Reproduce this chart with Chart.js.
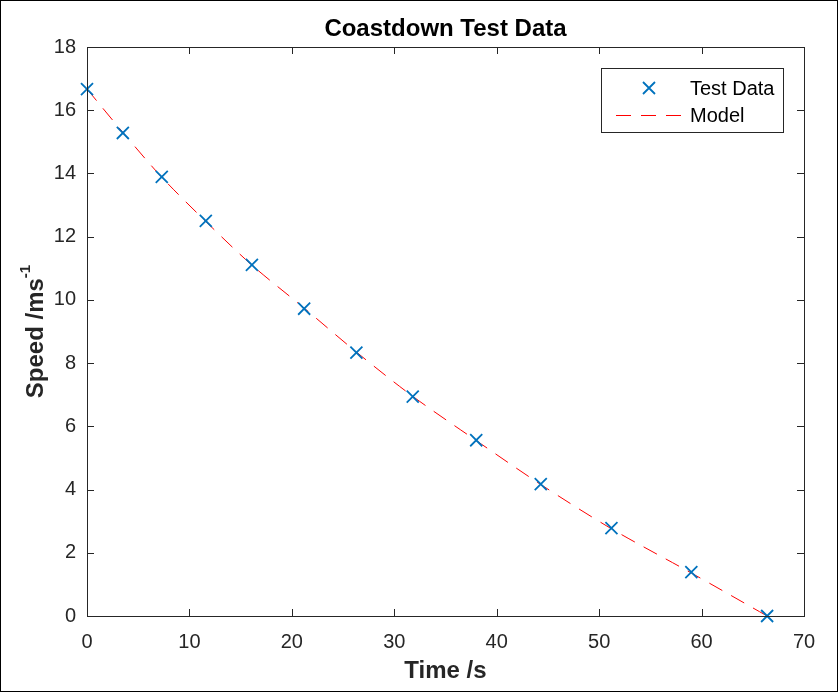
<!DOCTYPE html>
<html>
<head>
<meta charset="utf-8">
<script src="https://cdn.jsdelivr.net/npm/chart.js@4"></script>
<style>
  body { margin: 0; background: #fff; }
  #wrap { width: 839px; height: 692px; }
</style>
</head>
<body>
<div id="wrap"><canvas id="coastdownChart" width="839" height="692"></canvas></div>
<script>
const testTimes = [0, 3.5, 7.3, 11.6, 16.1, 21.2, 26.3, 31.8, 38.0, 44.3, 51.2, 59.0, 66.4];
const testSpeeds = [16.67, 15.28, 13.89, 12.50, 11.11, 9.72, 8.33, 6.94, 5.56, 4.17, 2.78, 1.39, 0.0];

// Modelcurve (gestippelde rode lijn)
const modelTimes = [0, 3.5, 7.3, 11.6, 16.1, 21.2, 26.3, 31.8, 38.0, 44.3, 51.2, 59.0, 66.4];
const modelSpeeds = [16.67, 15.30, 13.88, 12.48, 11.10, 9.74, 8.35, 6.95, 5.55, 4.16, 2.76, 1.36, 0.0];

const xTicks = [0, 10, 20, 30, 40, 50, 60, 70];
const yTicks = [0, 2, 4, 6, 8, 10, 12, 14, 16, 18];

const FONT = "'Liberation Sans', Arial, Helvetica, sans-serif";
const AXIS_COLOR = '#262626';

const toPoints = (xs, ys) => xs.map((x, i) => ({ x: x, y: ys[i] }));

// Plugin: kader, ticks naar binnen, titels, legenda en rand van de figuur
const matlabFrame = {
    id: 'matlabFrame',
    afterDraw(chart) {
        const ctx = chart.ctx;
        const area = chart.chartArea;
        const xs = chart.scales.x;
        const ys = chart.scales.y;
        const tick = 7;

        ctx.save();
        ctx.strokeStyle = AXIS_COLOR;
        ctx.lineWidth = 1;
        ctx.beginPath();
        xTicks.forEach(v => {
            const px = Math.round(xs.getPixelForValue(v)) + 0.5;
            ctx.moveTo(px, area.bottom); ctx.lineTo(px, area.bottom - tick);
            ctx.moveTo(px, area.top); ctx.lineTo(px, area.top + tick);
        });
        yTicks.forEach(v => {
            const py = Math.round(ys.getPixelForValue(v)) + 0.5;
            ctx.moveTo(area.left, py); ctx.lineTo(area.left + tick, py);
            ctx.moveTo(area.right, py); ctx.lineTo(area.right - tick, py);
        });
        ctx.stroke();
        ctx.strokeRect(Math.round(area.left) + 0.5, Math.round(area.top) + 0.5,
            Math.round(area.right - area.left), Math.round(area.bottom - area.top));

        // titel
        ctx.fillStyle = '#000';
        ctx.font = 'bold 24px ' + FONT;
        ctx.textAlign = 'center';
        ctx.textBaseline = 'middle';
        ctx.fillText('Coastdown Test Data', (area.left + area.right) / 2, 29);

        // x-as titel
        ctx.fillStyle = AXIS_COLOR;
        ctx.fillText('Time /s', (area.left + area.right) / 2, 671);

        // y-as titel met superscript
        ctx.translate(36, (area.top + area.bottom) / 2);
        ctx.rotate(-Math.PI / 2);
        const main = 'Speed /ms';
        const sup = '-1';
        ctx.font = 'bold 24px ' + FONT;
        const wMain = ctx.measureText(main).width;
        ctx.font = 'bold 15px ' + FONT;
        const wSup = ctx.measureText(sup).width;
        const start = -(wMain + wSup) / 2;
        ctx.textAlign = 'left';
        ctx.font = 'bold 24px ' + FONT;
        ctx.fillText(main, start, 0);
        ctx.font = 'bold 15px ' + FONT;
        ctx.fillText(sup, start + wMain, -10);
        ctx.restore();

        // legenda
        ctx.save();
        const lx = 601.5, ly = 68.5, lw = 182, lh = 64;
        ctx.fillStyle = '#fff';
        ctx.fillRect(lx, ly, lw, lh);
        ctx.strokeStyle = AXIS_COLOR;
        ctx.lineWidth = 1;
        ctx.strokeRect(lx, ly, lw, lh);

        const ds = chart.data.datasets;
        ctx.font = '20px ' + FONT;
        ctx.fillStyle = '#000';
        ctx.textAlign = 'left';
        ctx.textBaseline = 'middle';

        // rij 1: marker
        const r1 = 88, r2 = 115;
        ctx.strokeStyle = ds[0].borderColor;
        ctx.lineWidth = ds[0].pointBorderWidth;
        const m = 6;
        ctx.beginPath();
        ctx.moveTo(649 - m, r1 - m); ctx.lineTo(649 + m, r1 + m);
        ctx.moveTo(649 + m, r1 - m); ctx.lineTo(649 - m, r1 + m);
        ctx.stroke();
        ctx.fillText(ds[0].label, 690, r1 + 1);

        // rij 2: gestippelde lijn
        ctx.strokeStyle = ds[1].borderColor;
        ctx.lineWidth = ds[1].borderWidth;
        ctx.setLineDash(ds[1].borderDash);
        ctx.beginPath();
        ctx.moveTo(616, r2 + 0.5); ctx.lineTo(684, r2 + 0.5);
        ctx.stroke();
        ctx.setLineDash([]);
        ctx.fillText(ds[1].label, 690, r2 + 1);

        // rand van de figuur
        ctx.strokeStyle = '#000';
        ctx.lineWidth = 1;
        ctx.strokeRect(0.5, 0.5, 837, 691);
        ctx.restore();
    }
};

new Chart(document.getElementById('coastdownChart').getContext('2d'), {
    type: 'scatter',
    data: {
        datasets: [{
            label: 'Test Data',
            data: toPoints(testTimes, testSpeeds),
            showLine: false,
            pointStyle: 'crossRot',
            pointRadius: 8.5,
            pointBorderWidth: 1.8,
            borderColor: '#0072BD',
            backgroundColor: '#0072BD',
            clip: false,
            order: 1
        }, {
            label: 'Model',
            data: toPoints(modelTimes, modelSpeeds),
            showLine: true,
            pointRadius: 0,
            borderColor: '#FF0000',
            borderWidth: 1,
            borderDash: [15, 10],
            tension: 0.3,
            clip: false,
            order: 2
        }]
    },
    options: {
        responsive: false,
        animation: false,
        layout: { padding: { top: 47, right: 35, left: 0, bottom: 0 } },
        plugins: { legend: { display: false }, title: { display: false }, tooltip: { enabled: false } },
        scales: {
            x: {
                type: 'linear',
                min: 0, max: 70,
                afterFit: s => { s.height = 76; },
                afterBuildTicks: s => { s.ticks = xTicks.map(v => ({ value: v })); },
                grid: { display: false, drawTicks: false },
                border: { display: false },
                ticks: { autoSkip: false, maxRotation: 0, padding: 14, color: AXIS_COLOR, font: { family: FONT, size: 20 } }
            },
            y: {
                type: 'linear',
                min: 0, max: 18,
                afterFit: s => { s.width = 87; },
                afterBuildTicks: s => { s.ticks = yTicks.map(v => ({ value: v })); },
                grid: { display: false, drawTicks: false },
                border: { display: false },
                ticks: { autoSkip: false, padding: 11, color: AXIS_COLOR, font: { family: FONT, size: 20 } }
            }
        }
    },
    plugins: [matlabFrame]
});
</script>
</body>
</html>
